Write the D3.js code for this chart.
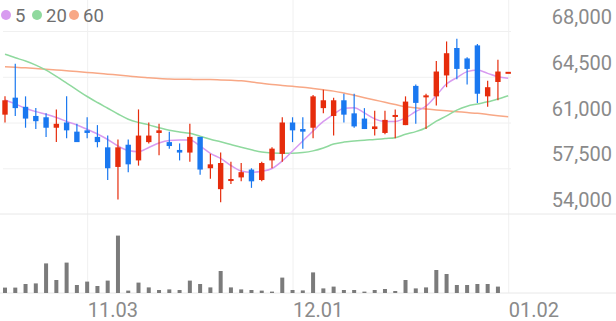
<!DOCTYPE html>
<html>
<head>
<meta charset="utf-8">
<script src="https://cdn.jsdelivr.net/npm/d3@7"></script>
<style>
  html, body { margin: 0; padding: 0; background: #fff; }
  svg { display: block; font-family: Roboto, "Noto Sans", sans-serif; }
</style>
</head>
<body>
<div id="chart"></div>
<script>
// trading days, 10.22 ~ 01.02
const dates = ["10.22","10.23","10.24","10.27","10.28","10.29","10.30","10.31",
  "11.03","11.04","11.05","11.06","11.07","11.10","11.11","11.12","11.13","11.14",
  "11.17","11.18","11.19","11.20","11.21","11.24","11.25","11.26","11.27","11.28",
  "12.01","12.02","12.03","12.04","12.05","12.08","12.09","12.10","12.11","12.12",
  "12.15","12.16","12.17","12.18","12.19","12.22","12.23","12.24","12.26","12.29","12.30",
  "01.02"];

const open = [61600,62900,62200,61500,61400,60600,61000,60300,60400,59900,
  59100,57600,59300,58100,59500,60200,59500,58900,58700,59900,
  57500,55900,56500,56800,57400,56600,58100,58600,61000,60500,
  60600,62100,61500,62700,61700,61300,60500,60200,61400,60800,
  63800,62900,63000,64600,66700,65900,66900,63000,64100,64800];
const high = [63000,65500,63000,62100,61700,62000,63000,60900,61400,60800,
  60000,59700,59700,62000,61000,60900,60300,59400,60900,59900,
  58600,58700,58000,57900,57500,58000,59100,61400,61400,61400,
  63100,63500,62900,63200,63200,62100,61900,61900,62000,63000,
  63900,63200,65700,67200,67400,66000,67000,64200,65800,64800];
const low = [61000,61500,60600,60500,59900,59500,59800,59500,59800,59100,
  56600,55100,57200,57700,59400,58500,59000,58100,58000,57000,
  56700,54900,56300,56500,56000,56500,57500,58000,59500,59000,
  59800,61700,60000,61000,60600,60500,60000,60100,59800,60800,
  60900,60500,62300,63700,64300,63900,62500,62200,62700,64800];
const close = [62700,62100,61300,61100,60600,60900,60400,59500,60200,59500,
  57500,59100,57800,60000,60000,60400,59200,58700,59900,57400,
  57800,57900,56600,57200,56500,57900,59000,61000,60400,60300,
  63000,62700,62700,61600,60700,60500,60700,61200,61500,62600,
  62500,63000,64900,66300,65100,65100,63200,63700,64900,64800];

const volume = [2.7,2.7,4.5,4.8,14.8,6.5,15.2,4.0,5.7,3.5,
  6.2,28.7,1.2,5.2,2.8,1.5,1.8,1.5,6.2,4.5,
  2.8,11.0,2.8,1.8,1.5,1.2,0.7,7.7,1.5,1.3,
  10.3,2.3,3.2,1.5,1.5,0.7,1.5,2.0,1.0,6.5,
  2.3,2.8,11.5,9.5,4.0,4.0,4.5,4.5,3.2,0];

const ma5 = [62720,62420,62090,61830,61630,61380,61080,60810,60480,60120,
  59700,59200,58860,58770,59090,59430,59620,59660,59660,59200,
  58640,58250,57710,57290,57190,57270,57480,58060,58820,59590,
  60350,61080,61630,62090,62130,61730,61280,61080,61080,61350,
  61840,62260,63070,63950,64440,64890,65020,64760,64500,64380];
const ma20 = [66220,65950,65700,65390,65000,64530,64020,63500,62990,62530,
  62090,61650,61250,61000,60820,60600,60400,60280,60170,59950,
  59720,59520,59310,59100,58910,58740,58670,58650,58640,58700,
  58830,59050,59350,59500,59580,59650,59700,59770,59840,60100,
  60300,60600,61100,61500,61950,62250,62420,62580,62800,63050];
const ma60 = [65270,65220,65180,65130,65080,65020,64960,64900,64830,64770,
  64700,64630,64560,64480,64420,64360,64330,64310,64300,64290,
  64290,64260,64230,64200,64100,64000,63900,63830,63770,63700,
  63600,63500,63400,63250,63080,62900,62720,62550,62370,62200,
  62120,62040,61960,61890,61830,61760,61700,61610,61520,61440];

const tickLabels = ["11.03","12.01","01.02"];
const priceTicks = [54000,57500,61000,64500,68000];
const maNames = ["5","20","60"];
const maColors = ["#d89bf0","#8fd99e","#f8a886"];

const width = 616;
const height = 321;
const upColor = "#e62c0c";
const downColor = "#1a78f0";

const svg = d3.select("#chart").append("svg")
  .attr("width", width)
  .attr("height", height);

const x = d3.scalePoint().domain(dates).range([5, 508.2]);
const y = d3.scaleLinear().domain([54000, 68000]).range([214, 31]);
const yv = d3.scaleLinear().domain([0, 39.5]).range([293, 214]);

// horizontal grid + price labels
const yAxis = svg.append("g")
  .attr("transform", "translate(511,0)")
  .call(d3.axisLeft(y).tickValues(priceTicks.slice(1)).tickSize(508).tickFormat(""));
yAxis.select(".domain").remove();
yAxis.selectAll("line").attr("stroke", "#f0f0f0");

svg.append("g").selectAll("text")
  .data(priceTicks)
  .enter()
  .append("text")
  .attr("x", 612)
  .attr("y", (d) => y(d) - 7)
  .attr("text-anchor", "end")
  .attr("fill", "#8a8a8a")
  .style("font-size", "20px")
  .text((d) => d3.format(",")(d));

// vertical grid + date labels
const xAxis = svg.append("g")
  .attr("transform", "translate(0,293)")
  .call(d3.axisBottom(x).tickValues(tickLabels).tickSize(-293));
xAxis.select(".domain").remove();
xAxis.selectAll("line").attr("stroke", "#f0f0f0");
xAxis.selectAll("text")
  .attr("text-anchor", "start")
  .attr("x", 0)
  .attr("y", 24)
  .attr("dy", null)
  .attr("fill", "#8a8a8a")
  .style("font-size", "20px")
  .style("font-family", "Roboto");

// separators
svg.append("line").attr("x1", 0).attr("x2", width)
  .attr("y1", y(54000)).attr("y2", y(54000)).attr("stroke", "#e8e8e8");
svg.append("line").attr("x1", 0).attr("x2", width)
  .attr("y1", yv(0)).attr("y2", yv(0)).attr("stroke", "#e8e8e8");

// volume
svg.append("g").selectAll("rect")
  .data(volume)
  .enter()
  .append("rect")
  .attr("x", (d, i) => x(dates[i]) - 2)
  .attr("y", (d) => yv(d))
  .attr("width", 4)
  .attr("height", (d) => yv(0) - yv(d))
  .attr("fill", "#7b7b7b");

// moving averages
const line = d3.line()
  .x((d, i) => x(dates[i]))
  .y((d) => y(d))
  .curve(d3.curveMonotoneX);
[ma60, ma20, ma5].forEach((s, k) => {
  svg.append("path")
    .datum(s)
    .attr("fill", "none")
    .attr("stroke", maColors[2 - k])
    .attr("stroke-width", 1.5)
    .attr("d", line);
});

// candles
const candles = svg.append("g").selectAll("g")
  .data(dates)
  .enter()
  .append("g")
  .attr("fill", (d, i) => (close[i] >= open[i] ? upColor : downColor))
  .attr("stroke", (d, i) => (close[i] >= open[i] ? upColor : downColor));

candles.append("line")
  .attr("x1", (d) => x(d))
  .attr("x2", (d) => x(d))
  .attr("y1", (d, i) => y(high[i]))
  .attr("y2", (d, i) => y(low[i]))
  .attr("stroke-width", 1.2);

candles.append("rect")
  .attr("stroke", "none")
  .attr("x", (d) => x(d) - 2.7)
  .attr("width", 5.4)
  .attr("y", (d, i) => y(Math.max(open[i], close[i])) - (Math.abs(open[i] - close[i]) < 150 ? 1 : 0))
  .attr("height", (d, i) => Math.max(2, Math.abs(y(open[i]) - y(close[i]))));

// legend
const legend = svg.append("g").selectAll("g")
  .data(maNames)
  .enter()
  .append("g")
  .attr("transform", (d, i) => `translate(${[6, 37, 74][i]},15)`);
legend.append("circle")
  .attr("r", 5)
  .attr("fill", (d, i) => maColors[i]);
legend.append("text")
  .attr("x", 9)
  .attr("y", 6.8)
  .attr("fill", "#6f6f6f")
  .style("font-size", "18.5px")
  .text((d) => d);
</script>
</body>
</html>
